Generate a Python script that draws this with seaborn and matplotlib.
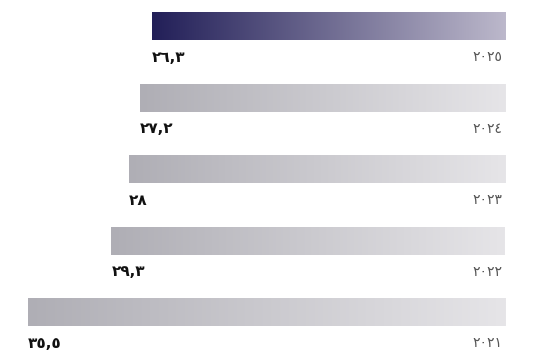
import matplotlib
matplotlib.use("Agg")
import matplotlib.pyplot as plt
import seaborn as sns
import numpy as np
import pandas as pd
from matplotlib.colors import LinearSegmentedColormap

years = ["٢٠٢٥", "٢٠٢٤", "٢٠٢٣", "٢٠٢٢", "٢٠٢١"]
values = [26.3, 27.2, 28.0, 29.3, 35.5]
value_labels = ["٢٦,٣", "٢٧,٢", "٢٨", "٢٩,٣", "٣٥,٥"]

sns.set_style("white")
plt.rcParams['font.family'] = ['DejaVu Sans']

df = pd.DataFrame({"year": years, "value": values})

fig = plt.figure(figsize=(5.48, 3.54), dpi=100)
ax = fig.add_axes([28/548, 0, 477/548, 1])
sns.barplot(data=df, y="year", x="value", orient="h", ax=ax, width=0.38,
            color="#b0afb6", edgecolor="none", order=years)

top = 26.5 / 71.5
ax.set_xlim(max(values), 0)
ax.set_ylim((354 - 26.5) / 71.5, -top)
ax.axis("off")

cmap_hi = LinearSegmentedColormap.from_list("hi", ["#221f58", "#bcb8cb"])
cmap_gray = LinearSegmentedColormap.from_list("gr", ["#afaeb5", "#e6e5e8"])
grad = np.linspace(0, 1, 256).reshape(1, -1)

for i, patch in enumerate(ax.patches):
    x0, y0 = patch.get_x(), patch.get_y()
    w, h = patch.get_width(), patch.get_height()
    patch.set_alpha(0)
    cm = cmap_hi if i == 0 else cmap_gray
    im = ax.imshow(grad, cmap=cm, aspect="auto",
                   extent=[x0 + w, x0, y0 + h, y0], zorder=2)
    ax.text(values[i], y0 + h + 0.24, value_labels[i], ha="left", va="center",
            fontsize=11, fontweight="bold", color="#111111")
    ax.text(0.2, y0 + h + 0.24, years[i], ha="right", va="center",
            fontsize=10, color="#555555")

ax.set_xlim(max(values), 0)
ax.set_ylim((354 - 26.5) / 71.5, -top)
fig.savefig("out.png", dpi=100)
